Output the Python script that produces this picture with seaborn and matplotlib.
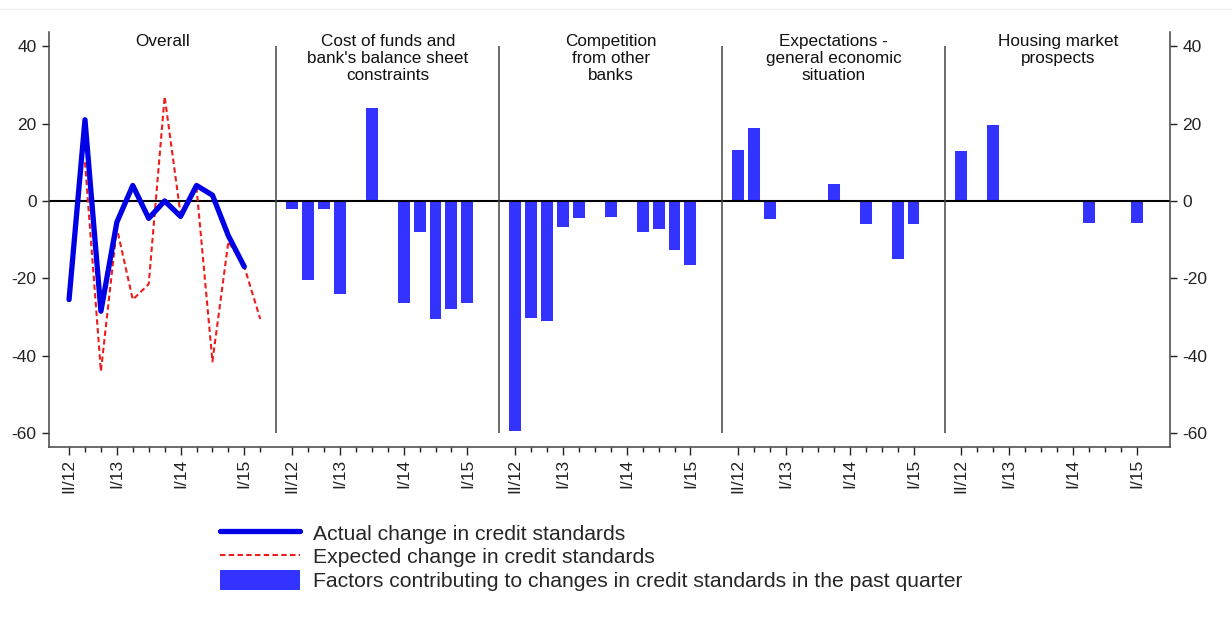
import numpy as np
import pandas as pd
import matplotlib
matplotlib.use("Agg")
import matplotlib.pyplot as plt
from matplotlib.lines import Line2D
from matplotlib.patches import Patch
import seaborn as sns

# quarters shown in every panel (II/12 .. II/15)
quarters = ["II/12", "III/12", "IV/12", "I/13", "II/13", "III/13", "IV/13",
            "I/14", "II/14", "III/14", "IV/14", "I/15", "II/15"]
labelled = ["II/12", "I/13", "I/14", "I/15"]

panel_titles = ["Overall",
                "Cost of funds and\nbank's balance sheet\nconstraints",
                "Competition\nfrom other\nbanks",
                "Expectations -\ngeneral economic\nsituation",
                "Housing market\nprospects"]

# Overall panel: lines (II/12 .. I/15 actual, III/12 .. II/15 expected)
actual = [-25.5, 21, -28.5, -5.5, 4, -4.5, 0, -4, 4, 1.5, -9, -17]
expected = [np.nan, 10, -44, -7, -25.5, -21.5, 27, -3.5, 3.5, -41.5, -10.5, -17, -30.5]

# factor panels: II/12 .. I/15
cost_of_funds = [-2, -20.5, -2, -24, 0, 24, 0, -26.5, -8, -30.5, -28, -26.5]
competition = [-59.5, -30.3, -31, -6.7, -4.4, 0, -4.1, 0, -8.1, -7.2, -12.6, -16.5]
expectations = [13.2, 18.9, -4.6, 0, 0, 0, 4.3, 0, -5.9, 0, -15, -5.9]
housing = [13, 0, 19.6, 0, 0, 0, 0, 0, -5.8, 0, 0, -5.8]
factors = [cost_of_funds, competition, expectations, housing]

STEP = 14  # slots per panel

sns.set_style("ticks")
plt.rcParams["font.family"] = ["Liberation Sans", "DejaVu Sans"]
plt.rcParams["axes.unicode_minus"] = False

fig = plt.figure(figsize=(12.32, 6.26), dpi=100)
ax = fig.add_axes([0.0398, 0.286, 0.9099, 0.663])

bar_blue = "#3333ff"
line_blue = "#0000e6"
red = "#ee1c1c"

# bars
rows = []
for p, vals in enumerate(factors, start=1):
    for i, v in enumerate(vals):
        rows.append({"x": p * STEP + i, "value": v})
bars = pd.DataFrame(rows)
sns.barplot(data=bars, x="x", y="value", native_scale=True, width=0.75,
            color=bar_blue, saturation=1, errorbar=None, linewidth=0, ax=ax)

# lines for the overall panel
xa = np.arange(len(actual))
xe = np.arange(len(expected))
sns.lineplot(x=xe, y=expected, color=red, linewidth=1.5,
             linestyle=(0, (2.6, 1.6)), ax=ax)
sns.lineplot(x=xa, y=actual, color=line_blue, linewidth=3.8, ax=ax)

ax.axhline(0, color="black", lw=1.5, zorder=1)
for p in range(1, 5):
    ax.vlines(p * STEP - 1, -60, 40, color="#444444", lw=1.1)

ax.set_xlim(-1.256, 69.1)
ax.set_ylim(-63.6, 43.7)

# x ticks
major, major_lab, minor = [], [], []
for p in range(5):
    n = len(quarters) if p == 0 else len(quarters) - 1
    for i in range(n):
        if quarters[i] in labelled:
            major.append(p * STEP + i)
            major_lab.append(quarters[i])
        else:
            minor.append(p * STEP + i)
ax.set_xticks(major, major_lab, rotation=90)
ax.set_xticks(minor, minor=True)
ax.set_xlabel("")
ax.set_ylabel("")

ax.set_yticks([-60, -40, -20, 0, 20, 40])
ax.yaxis.set_ticks_position("both")
ax.tick_params(axis="y", which="both", direction="out", length=5,
               width=1, labelsize=12.5, labelright=True, pad=4, colors="#222222")
ax.tick_params(axis="x", which="major", direction="out", length=5.5,
               width=1, labelsize=12.5, pad=3, colors="#222222")
ax.tick_params(axis="x", which="minor", direction="out", length=3.5, width=1,
               colors="#222222")

for s in ["left", "right", "bottom"]:
    ax.spines[s].set_color("#444444")
    ax.spines[s].set_linewidth(1.1)
ax.spines["top"].set_visible(False)

# panel titles
edges = [-1.256] + [p * STEP - 1 for p in range(1, 5)] + [69.1]
for p, title in enumerate(panel_titles):
    cx = (edges[p] + edges[p + 1]) / 2
    ax.text(cx, 43.1, title, ha="center", va="top", fontsize=12.3,
            linespacing=1.15, color="#111111")

# faint rule from the cropped page header
fig.add_artist(Line2D([0, 1], [1 - 9 / 626, 1 - 9 / 626], color="#eeeeee", lw=1))

handles = [Line2D([], [], color=line_blue, lw=3.8),
           Line2D([], [], color=red, lw=1.5, linestyle=(0, (2.6, 1.6))),
           Patch(facecolor=bar_blue, edgecolor="none")]
labels = ["Actual change in credit standards",
          "Expected change in credit standards",
          "Factors contributing to changes in credit standards in the past quarter"]
fig.legend(handles, labels, loc="upper left", bbox_to_anchor=(0.1786, 0.165),
           frameon=False, fontsize=15.2, handlelength=3.8, handleheight=1.1,
           handletextpad=0.6, labelspacing=0.1, borderpad=0, borderaxespad=0)

fig.savefig("out.png", dpi=100)
